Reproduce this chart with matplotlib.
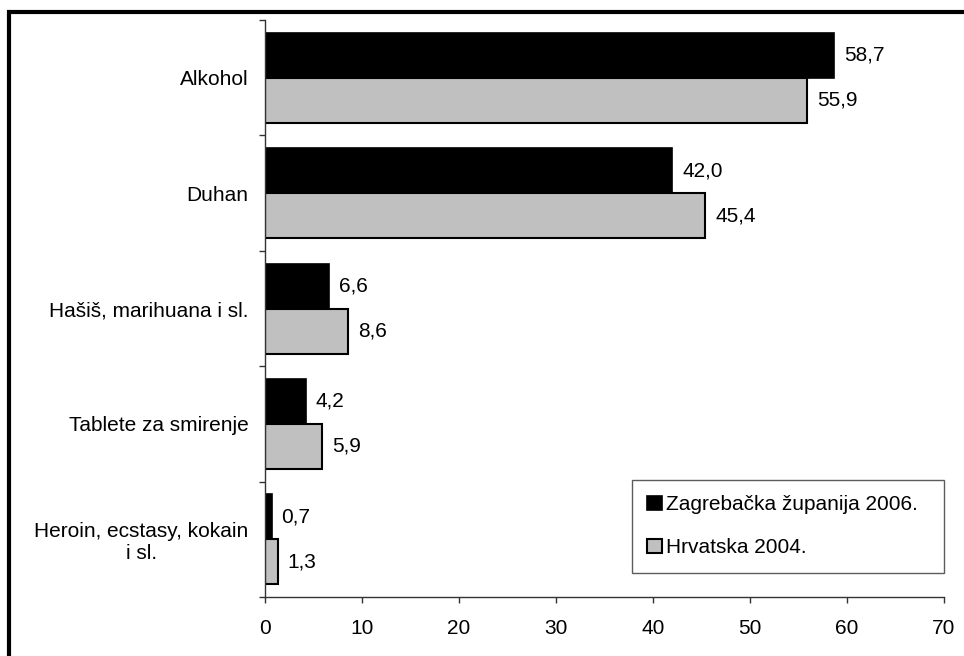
import numpy as np
import matplotlib
matplotlib.use('Agg')
import matplotlib.pyplot as plt
from matplotlib.patches import Rectangle

plt.rcParams['font.family'] = ['Liberation Sans', 'DejaVu Sans']

categories = ['Alkohol', 'Duhan', 'Hašiš, marihuana i sl.', 'Tablete za smirenje',
              'Heroin, ecstasy, kokain\ni sl.']
zagreb_2006 = [58.7, 42.0, 6.6, 4.2, 0.7]
hrvatska_2004 = [55.9, 45.4, 8.6, 5.9, 1.3]
series_names = ['Zagrebačka županija 2006.', 'Hrvatska 2004.']

FS = 15

fig = plt.figure(figsize=(9.64, 6.56), dpi=100)
ax = fig.add_axes([0.2749, 0.0899, 0.7044, 0.8796])

y = np.arange(len(categories))
h = 0.39
b1 = ax.barh(y - h / 2, zagreb_2006, height=h, color='black', edgecolor='black',
             linewidth=1.2, label=series_names[0])
b2 = ax.barh(y + h / 2, hrvatska_2004, height=h, color='#c0c0c0', edgecolor='black',
             linewidth=1.5, label=series_names[1])

def fmt(v):
    return ('%.1f' % v).replace('.', ',')

for bars, vals in ((b1, zagreb_2006), (b2, hrvatska_2004)):
    for bar, v in zip(bars, vals):
        ax.annotate(fmt(v), (v, bar.get_y() + bar.get_height() / 2),
                    xytext=(7, 0), textcoords='offset points',
                    va='center', ha='left', fontsize=FS)

ax.set_xlim(0, 70)
ax.set_ylim(len(categories) - 0.5, -0.5)
ax.set_xticks(np.arange(0, 71, 10))
ax.tick_params(axis='x', labelsize=FS, length=4, width=1, pad=12, color='#333333')

# category labels between boundary ticks
ax.set_yticks(np.arange(-0.5, len(categories), 1.0))
ax.set_yticklabels([])
ax.set_yticks(y, minor=True)
ax.set_yticklabels(categories, minor=True, fontsize=FS)
ax.tick_params(axis='y', which='major', length=4, width=1, color='#333333')
ax.tick_params(axis='y', which='minor', length=0, pad=12)
for lab in ax.get_yticklabels(minor=True):
    lab.set_multialignment('center')

for s in ('top', 'right'):
    ax.spines[s].set_visible(False)
for s in ('left', 'bottom'):
    ax.spines[s].set_color('#333333')
    ax.spines[s].set_linewidth(1)

leg = ax.legend(loc='lower left', bbox_to_anchor=(0.54, 0.042, 0.46, 0.163),
                mode='expand', fontsize=FS, frameon=True, fancybox=False,
                handlelength=0.7, handleheight=0.7, handletextpad=0.2,
                labelspacing=1.15, borderpad=0.75, borderaxespad=0)
leg.get_frame().set_edgecolor('#333333')
leg.get_frame().set_linewidth(1)

# thick outer border (right/bottom edges fall outside the image)
fig.patches.append(Rectangle((8.5 / 964, -0.1), 1.2, 1.1 - 11.5 / 656,
                             transform=fig.transFigure, fill=False,
                             edgecolor='black', linewidth=3))

fig.savefig('out.png', dpi=100)
